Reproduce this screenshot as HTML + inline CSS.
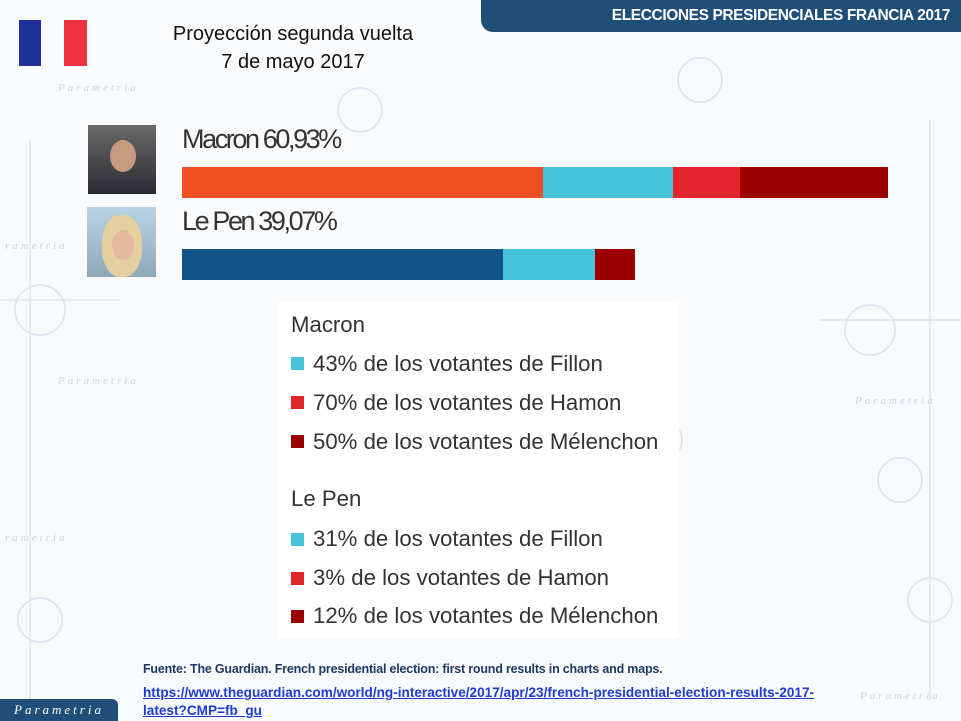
<!DOCTYPE html>
<html><head><meta charset="utf-8"><style>
body{margin:0;width:961px;height:721px;overflow:hidden;background:#f9fafc;font-family:"Liberation Sans",sans-serif;position:relative}
div{position:absolute}
.t{font-family:"Liberation Sans Narrow","Liberation Sans",sans-serif;color:#333;white-space:nowrap}
.sq{width:13px;height:13px;left:291px}
.li{left:313px;font-size:22.2px;color:#333;white-space:nowrap;letter-spacing:0px}
.wm{color:#c9d5e2;font-style:italic;font-size:11px;letter-spacing:3px;font-family:"Liberation Serif",serif}
</style></head><body>
<svg style="position:absolute;left:0;top:0" width="961" height="721">
<g stroke="#dbe4ee" fill="none" stroke-width="1.5">
<circle cx="40" cy="310" r="25"/><circle cx="870" cy="330" r="25"/><circle cx="660" cy="440" r="22"/><circle cx="900" cy="480" r="22"/><circle cx="40" cy="620" r="22"/><circle cx="360" cy="110" r="22"/><circle cx="700" cy="80" r="22"/><circle cx="930" cy="600" r="22"/>
<line x1="30" y1="140" x2="30" y2="700"/><line x1="930" y1="120" x2="930" y2="700"/><line x1="0" y1="300" x2="120" y2="300"/><line x1="820" y1="320" x2="961" y2="320"/>
</g></svg>
<div class="wm" style="left:58px;top:82px">Parametria</div>
<div class="wm" style="left:5px;top:240px">rametria</div>
<div class="wm" style="left:58px;top:375px">Parametria</div>
<div class="wm" style="left:855px;top:395px">Parametria</div>
<div class="wm" style="left:5px;top:532px">rametria</div>
<div class="wm" style="left:860px;top:690px">Parametria</div>
<div style="left:481px;top:0;width:480px;height:32px;background:#1f4e79;border-bottom-left-radius:12px"></div>
<div style="left:540px;top:7px;width:410px;text-align:right;color:#fff;font-weight:bold;font-size:15.5px;letter-spacing:-0.4px">ELECCIONES PRESIDENCIALES FRANCIA 2017</div>
<div style="left:19px;top:20px;width:22px;height:46px;background:#1f2e9a"></div>
<div style="left:64px;top:20px;width:23px;height:46px;background:#ee3340"></div>
<div style="left:143px;top:20px;width:300px;text-align:center;font-size:20px;line-height:28px;color:#111">Proyección segunda vuelta<br>7 de mayo 2017</div>
<div style="left:88px;top:125px;width:68px;height:69px;background:linear-gradient(#6a6a6a,#2b2b33);"></div>
<div style="left:110px;top:140px;width:26px;height:32px;border-radius:50%;background:#c59a80"></div>
<div style="left:87px;top:207px;width:69px;height:70px;background:linear-gradient(#b8d4e4,#8ea8b8)"></div>
<div style="left:102px;top:215px;width:40px;height:62px;border-radius:45%;background:#e6cf9e"></div>
<div style="left:112px;top:230px;width:22px;height:30px;border-radius:50%;background:#e6b8a0"></div>
<div class="t" style="left:182px;top:124px;font-size:27px;letter-spacing:-2.4px">Macron 60,93%</div>
<div style="left:182px;top:167px;width:361px;height:31px;background:#f04e23"></div>
<div style="left:543px;top:167px;width:130px;height:31px;background:#47c3d8"></div>
<div style="left:673px;top:167px;width:67px;height:31px;background:#e2252b"></div>
<div style="left:740px;top:167px;width:148px;height:31px;background:#9b0000"></div>
<div class="t" style="left:182px;top:206px;font-size:27px;letter-spacing:-2.4px">Le Pen 39,07%</div>
<div style="left:182px;top:249px;width:321px;height:31px;background:#135488"></div>
<div style="left:503px;top:249px;width:92px;height:31px;background:#47c3d8"></div>
<div style="left:595px;top:249px;width:40px;height:31px;background:#9b0000"></div>
<div style="left:279px;top:303px;width:400px;height:335px;background:#fff"></div>
<div class="li" style="left:291px;top:312px">Macron</div>
<div class="sq" style="top:357px;background:#47c3d8"></div><div class="li" style="top:351px">43% de los votantes de Fillon</div>
<div class="sq" style="top:396px;background:#e2252b"></div><div class="li" style="top:390px">70% de los votantes de Hamon</div>
<div class="sq" style="top:435px;background:#9b0000"></div><div class="li" style="top:429px">50% de los votantes de Mélenchon</div>
<div class="li" style="left:291px;top:486px">Le Pen</div>
<div class="sq" style="top:533px;background:#47c3d8"></div><div class="li" style="top:526px">31% de los votantes de Fillon</div>
<div class="sq" style="top:572px;background:#e2252b"></div><div class="li" style="top:565px">3% de los votantes de Hamon</div>
<div class="sq" style="top:610px;background:#9b0000"></div><div class="li" style="top:603px">12% de los votantes de Mélenchon</div>
<div style="left:143px;top:662px;font-size:12.5px;font-weight:bold;color:#1f3864;white-space:nowrap;letter-spacing:-0.2px">Fuente: The Guardian. French presidential election: first round results in charts and maps.</div>
<div style="left:143px;top:684px;font-size:13.6px;font-weight:bold;color:#1f3bd0;text-decoration:underline;line-height:18px;letter-spacing:0px;width:720px;white-space:nowrap">https://www.theguardian.com/world/ng-interactive/2017/apr/23/french-presidential-election-results-2017-<br>latest?CMP=fb_gu</div>
<div style="left:0;top:699px;width:118px;height:22px;background:#1f4e79;border-top-right-radius:6px;color:#fff;font-style:italic;font-family:'Liberation Serif',serif;font-size:13px;letter-spacing:3px;line-height:22px;text-align:center">Parametria</div>
</body></html>
